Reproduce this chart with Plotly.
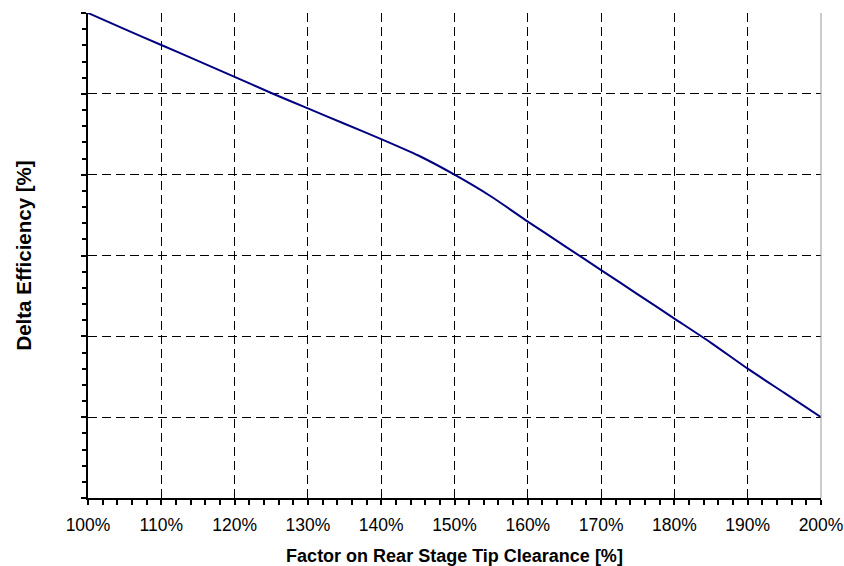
import plotly.graph_objects as go

# Tip clearance factor (%) and resulting efficiency change (%)
clearance_factor = [100, 105, 110, 115, 120, 125, 130, 135, 140, 145, 150,
                    155, 160, 165, 170, 175, 180, 185, 190, 195, 200]
delta_efficiency = [0.0, -0.10, -0.198, -0.296, -0.395, -0.495, -0.59, -0.685,
                    -0.78, -0.88, -1.0, -1.135, -1.29, -1.44, -1.59, -1.74,
                    -1.89, -2.04, -2.2, -2.35, -2.5]

fig = go.Figure()
fig.add_trace(go.Scatter(
    x=clearance_factor, y=delta_efficiency, mode="lines",
    line=dict(color="#000080", width=2, shape="spline", smoothing=0.6),
    showlegend=False,
))

font = dict(family="Liberation Sans, Arial, sans-serif", color="black")

fig.update_layout(
    width=844, height=566,
    margin=dict(l=88, r=23, t=13, b=68),
    paper_bgcolor="white", plot_bgcolor="white",
    font=dict(size=17.5, **font),
    xaxis=dict(
        range=[100, 200], dtick=10, tick0=100, ticksuffix="%",
        automargin=False,
        showline=True, linecolor="black", linewidth=2,
        ticks="outside", ticklen=5, tickwidth=2, tickcolor="black",
        ticklabelstandoff=5,
        showgrid=True, gridcolor="black", gridwidth=1, griddash="9px,5px",
        zeroline=False,
        minor=dict(dtick=2, ticks="outside", ticklen=5, tickwidth=2,
                   tickcolor="black", showgrid=False),
        title=dict(text="<b>Factor on Rear Stage Tip Clearance [%]</b>",
                   font=dict(size=18, **font), standoff=17),
        tickfont=dict(size=17.5, **font),
    ),
    yaxis=dict(
        range=[-3, 0], dtick=0.5, tick0=0, showticklabels=False,
        automargin=False,
        showline=True, linecolor="black", linewidth=2,
        ticks="outside", ticklen=5, tickwidth=2, tickcolor="black",
        showgrid=True, gridcolor="black", gridwidth=1, griddash="9px,5px",
        zeroline=False,
        minor=dict(dtick=0.1, ticks="outside", ticklen=4, tickwidth=2,
                   tickcolor="black", showgrid=False),
        title=dict(text="<b>Delta Efficiency [%]</b>",
                   font=dict(size=20.5, **font), standoff=44),
    ),
)

# Thin right border of the plotting area
fig.add_shape(type="line", xref="paper", yref="paper", x0=1, x1=1, y0=0, y1=1,
              line=dict(color="#999999", width=1))

fig.write_html("out.html")
